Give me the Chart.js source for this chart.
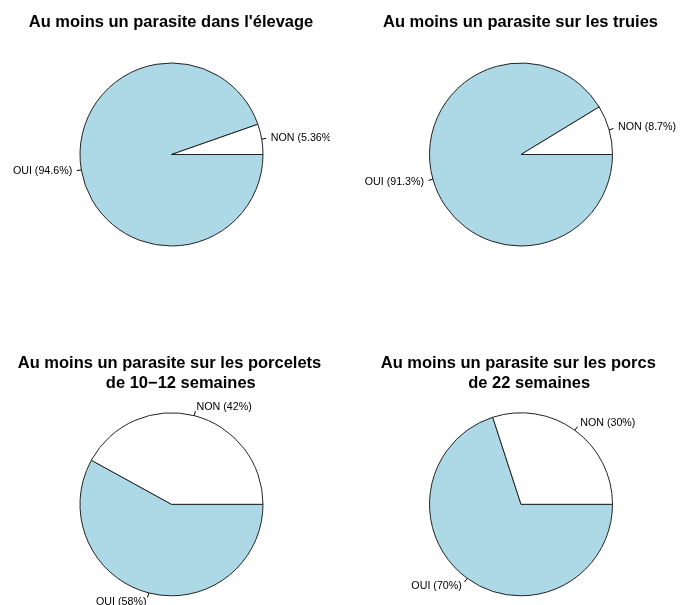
<!DOCTYPE html>
<html>
<head>
<meta charset="utf-8">
<script src="https://cdn.jsdelivr.net/npm/chart.js@4/dist/chart.umd.min.js"></script>
<style>
  html, body { margin: 0; padding: 0; background: #ffffff; }
  #wrap { position: relative; width: 680px; height: 605px; overflow: hidden; background: #fff; }
  .panel { position: absolute; }
</style>
</head>
<body>
<div id="wrap">
  <div class="panel" style="left:0px;top:0px;width:330px;height:302px;"><canvas id="c0"></canvas></div>
  <div class="panel" style="left:340px;top:0px;width:340px;height:302px;"><canvas id="c1"></canvas></div>
  <div class="panel" style="left:0px;top:302px;width:340px;height:303px;"><canvas id="c2"></canvas></div>
  <div class="panel" style="left:340px;top:302px;width:340px;height:303px;"><canvas id="c3"></canvas></div>
</div>
<script>
// ---- data ----
const categories = ["OUI", "NON"];
const sliceColors = ["#ADD8E6", "#FFFFFF"];
const ouiValues = [94.6, 91.3, 58, 70];
const nonValues = [5.36, 8.7, 42, 30];
const panelTitles = [
  ["Au moins un parasite dans l'élevage"],
  ["Au moins un parasite sur les truies"],
  ["Au moins un parasite sur les porcelets", "de 10\u221212 semaines"],
  ["Au moins un parasite sur les porcs", "de 22 semaines"]
];

// ---- layout (positions only) ----
const panelLayout = [
  { w: 330, h: 302, cx: 171.5, cy: 154.5, titleX: [171], titleY: [27] },
  { w: 340, h: 302, cx: 181, cy: 154.5, titleX: [180.5], titleY: [27] },
  { w: 340, h: 303, cx: 171.5, cy: 202.3, titleX: [169.5, 180.8], titleY: [66, 85.7] },
  { w: 340, h: 303, cx: 181, cy: 202.3, titleX: [178.3, 189.2], titleY: [66, 85.7] }
];
const pieRadius = 91.5;

const rTitlePlugin = {
  id: 'rTitle',
  afterDraw(chart, args, opts) {
    const ctx = chart.ctx;
    ctx.save();
    ctx.font = 'bold 16.5px "Liberation Sans", Arial, sans-serif';
    ctx.fillStyle = '#000';
    ctx.textAlign = 'center';
    ctx.textBaseline = 'alphabetic';
    opts.lines.forEach((line, i) => {
      ctx.fillText(line, opts.xs[i], opts.ys[i]);
    });
    ctx.restore();
  }
};

const rLabelPlugin = {
  id: 'rLabels',
  afterDatasetsDraw(chart) {
    const ctx = chart.ctx;
    const meta = chart.getDatasetMeta(0);
    const ds = chart.data.datasets[0];
    ctx.save();
    ctx.font = '10.7px "Liberation Sans", Arial, sans-serif';
    ctx.fillStyle = '#000';
    ctx.strokeStyle = '#000';
    ctx.lineWidth = 1;
    ctx.textBaseline = 'middle';
    meta.data.forEach((arc, i) => {
      const p = arc.getProps(['x', 'y', 'startAngle', 'endAngle', 'outerRadius'], true);
      const mid = (p.startAngle + p.endAngle) / 2;
      const c = Math.cos(mid), s = Math.sin(mid);
      const r = p.outerRadius;
      ctx.beginPath();
      ctx.moveTo(p.x + r * c, p.y + r * s);
      ctx.lineTo(p.x + 1.05 * r * c, p.y + 1.05 * r * s);
      ctx.stroke();
      ctx.textAlign = c < 0 ? 'right' : 'left';
      const txt = chart.data.labels[i] + ' (' + String(ds.data[i]) + '%)';
      ctx.fillText(txt, p.x + 1.1 * r * c, p.y + 1.1 * r * s);
    });
    ctx.restore();
  }
};

panelLayout.forEach((L, k) => {
  const S = 100;
  new Chart(document.getElementById('c' + k), {
    type: 'pie',
    data: {
      labels: categories,
      datasets: [{
        data: [ouiValues[k], nonValues[k]],
        backgroundColor: sliceColors,
        borderColor: '#222222',
        borderWidth: 1,
        hoverOffset: 0
      }]
    },
    options: {
      responsive: true,
      maintainAspectRatio: false,
      animation: false,
      rotation: 90,
      radius: pieRadius,
      layout: {
        padding: { left: L.cx - S, right: L.w - L.cx - S, top: L.cy - S, bottom: L.h - L.cy - S }
      },
      plugins: {
        legend: { display: false },
        tooltip: { enabled: false },
        title: { display: false },
        rTitle: { lines: panelTitles[k], xs: L.titleX, ys: L.titleY }
      },
      events: []
    },
    plugins: [rTitlePlugin, rLabelPlugin]
  });
});
</script>
</body>
</html>
